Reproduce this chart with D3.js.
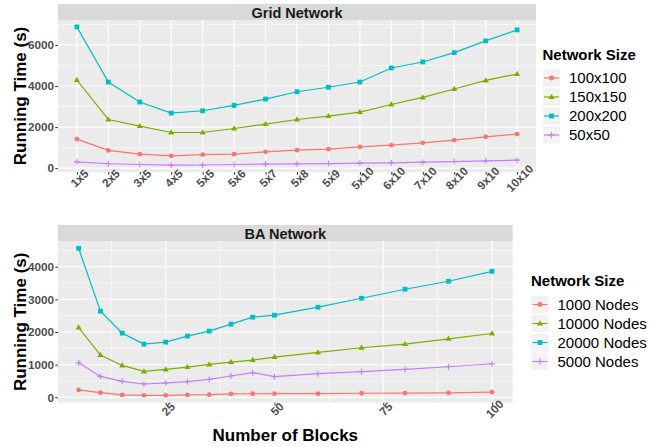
<!DOCTYPE html>
<html>
<head>
<meta charset="utf-8">
<script src="https://cdn.jsdelivr.net/npm/d3@7"></script>
<style>
  html, body { margin: 0; padding: 0; background: #fff; }
  svg { display: block; font-family: "Liberation Sans", Arial, Helvetica, sans-serif; }
</style>
</head>
<body>
<svg id="chart" width="652" height="447"></svg>
<script>
// ---- Grid network data (running time in seconds per block layout) ----
const gridCategories = ["1x5","2x5","3x5","4x5","5x5","5x6","5x7","5x8","5x9","5x10","6x10","7x10","8x10","9x10","10x10"];
const gridSeriesNames = ["100x100","150x150","200x200","50x50"];
const grid100x100 = [1415, 865, 683, 600, 663, 683, 795, 878, 927, 1039, 1122, 1234, 1366, 1527, 1659];
const grid150x150 = [4293, 2371, 2049, 1737, 1737, 1932, 2146, 2371, 2537, 2732, 3102, 3444, 3854, 4273, 4585];
const grid200x200 = [6878, 4195, 3220, 2683, 2795, 3054, 3366, 3722, 3940, 4195, 4878, 5171, 5624, 6195, 6732];
const grid50x50   = [307, 215, 180, 150, 155, 180, 200, 210, 224, 244, 259, 293, 322, 356, 390];
const gridYTicks = [0, 2000, 4000, 6000];

// ---- BA network data (running time in seconds per number of blocks) ----
const baBlocks = [5, 10, 15, 20, 25, 30, 35, 40, 45, 50, 60, 70, 80, 90, 100];
const baSeriesNames = ["1000 Nodes","10000 Nodes","20000 Nodes","5000 Nodes"];
const ba1000  = [226, 143, 73, 61, 61, 75, 82, 105, 110, 113, 113, 125, 130, 134, 160];
const ba10000 = [2137, 1295, 977, 794, 855, 928, 1008, 1081, 1142, 1234, 1374, 1518, 1630, 1792, 1954];
const ba20000 = [4562, 2638, 1966, 1630, 1692, 1875, 2027, 2241, 2455, 2516, 2760, 3035, 3310, 3554, 3859];
const ba5000  = [1060, 641, 489, 409, 440, 479, 550, 653, 754, 632, 724, 785, 855, 937, 1029];
const baXTicks = [25, 50, 75, 100];
const baXMinor = [12.5, 37.5, 62.5, 87.5];
const baYTicks = [0, 1000, 2000, 3000, 4000];

const colors = ["#F8766D", "#7CAE00", "#00BFC4", "#C77CFF"];
const shapes = ["circle", "triangle", "square", "plus"];

const svg = d3.select("#chart");
svg.append("rect").attr("width", 652).attr("height", 447).attr("fill", "#fff");

// ggplot-style 5% expansion of a numeric extent
function expand(lo, hi) {
  const d = (hi - lo) * 0.05;
  return [lo - d, hi + d];
}

function drawShape(g, shape, x, y, color) {
  if (shape === "circle") {
    g.append("circle").attr("cx", x).attr("cy", y).attr("r", 2.4).attr("fill", color);
  } else if (shape === "square") {
    g.append("rect").attr("x", x - 2.4).attr("y", y - 2.4).attr("width", 4.8).attr("height", 4.8).attr("fill", color);
  } else if (shape === "triangle") {
    const s = 3.2;
    g.append("path").attr("d", `M${x},${y - s}L${x + s * 0.95},${y + s * 0.62}L${x - s * 0.95},${y + s * 0.62}Z`).attr("fill", color);
  } else {
    const s = 3;
    g.append("path").attr("d", `M${x - s},${y}H${x + s}M${x},${y - s}V${y + s}`)
      .attr("stroke", color).attr("stroke-width", 1.1).attr("fill", "none");
  }
}

function drawPanel(opt) {
  const { left, right, top, bottom, stripTop, title, x, y, xs, series, yTicks, yMinor, xMajor, xMinor } = opt;
  const g = svg.append("g");

  // y axis title (drawn first so tick labels sit on top)
  svg.append("text").attr("transform", `translate(25.5,${(top + bottom) / 2}) rotate(-90)`)
    .attr("text-anchor", "middle").attr("font-weight", "bold").attr("font-size", 17).attr("fill", "#000")
    .text("Running Time (s)");

  // strip
  g.append("rect").attr("x", left).attr("y", stripTop).attr("width", right - left).attr("height", top - stripTop).attr("fill", "#D9D9D9");
  g.append("text").attr("x", (left + right) / 2).attr("y", stripTop + 14)
    .attr("text-anchor", "middle").attr("font-weight", "bold").attr("font-size", 14.5).attr("fill", "#1A1A1A").text(title);

  // panel background
  g.append("rect").attr("x", left).attr("y", top).attr("width", right - left).attr("height", bottom - top).attr("fill", "#EBEBEB");

  // minor grid
  yMinor.forEach(v => {
    const py = y(v);
    if (py > top && py < bottom)
      g.append("line").attr("x1", left).attr("x2", right).attr("y1", py).attr("y2", py).attr("stroke", "#fff").attr("stroke-width", 0.6);
  });
  xMinor.forEach(v => {
    g.append("line").attr("x1", x(v)).attr("x2", x(v)).attr("y1", top).attr("y2", bottom).attr("stroke", "#fff").attr("stroke-width", 0.6);
  });
  // major grid
  yTicks.forEach(v => {
    g.append("line").attr("x1", left).attr("x2", right).attr("y1", y(v)).attr("y2", y(v)).attr("stroke", "#fff").attr("stroke-width", 1.2);
  });
  xMajor.forEach(v => {
    g.append("line").attr("x1", x(v)).attr("x2", x(v)).attr("y1", top).attr("y2", bottom).attr("stroke", "#fff").attr("stroke-width", 1.2);
  });

  // lines
  const line = d3.line().x((d, i) => x(xs[i])).y(d => y(d));
  series.forEach((vals, k) => {
    g.append("path").attr("d", line(vals)).attr("fill", "none").attr("stroke", colors[k]).attr("stroke-width", 1.2);
  });
  // points
  series.forEach((vals, k) => {
    vals.forEach((v, i) => drawShape(g, shapes[k], x(xs[i]), y(v), colors[k]));
  });

  // y axis
  const ya = svg.append("g").attr("transform", `translate(${left},0)`)
    .call(d3.axisLeft(y).tickValues(yTicks).tickFormat(d3.format("d")).tickSize(2.75).tickPadding(1.3));
  ya.select(".domain").remove();
  ya.selectAll(".tick line").attr("stroke", "#333333").attr("stroke-width", 1);
  ya.selectAll(".tick text").attr("font-family", null).attr("font-size", 11.7).attr("font-weight", "bold").attr("fill", "#4D4D4D");

  // x axis
  const xa = svg.append("g").attr("transform", `translate(0,${bottom})`)
    .call(opt.xAxis(x).tickSize(2.75));
  xa.select(".domain").remove();
  xa.selectAll(".tick line").attr("stroke", "#333333").attr("stroke-width", 1);
  xa.selectAll(".tick text")
    .attr("font-family", null).attr("font-size", 11.7).attr("font-weight", "bold").attr("fill", "#4D4D4D")
    .attr("y", null).attr("dy", null).attr("text-anchor", "middle")
    .attr("transform", "translate(5,9.2) rotate(-45)");
}

function drawLegend(x0, titleY, names) {
  const g = svg.append("g");
  g.append("text").attr("x", x0).attr("y", titleY).attr("font-weight", "bold").attr("font-size", 15).attr("fill", "#000").text("Network Size");
  names.forEach((name, k) => {
    const cy = titleY + 18.5 + k * 19;
    g.append("rect").attr("x", x0 + 0.5).attr("y", cy - 8.5).attr("width", 17).attr("height", 17).attr("fill", "#F2F2F2");
    g.append("line").attr("x1", x0 + 1.5).attr("x2", x0 + 16.5).attr("y1", cy).attr("y2", cy).attr("stroke", colors[k]).attr("stroke-width", 1.2);
    drawShape(g, shapes[k], x0 + 9, cy, colors[k]);
    g.append("text").attr("x", x0 + 26.5).attr("y", cy + 5.3).attr("font-size", 15).attr("fill", "#000").text(name);
  });
}

// ---- Grid panel ----
{
  const left = 58, right = 536, top = 20, bottom = 172;
  const all = [].concat(grid100x100, grid150x150, grid200x200, grid50x50);
  const x = d3.scalePoint().domain(gridCategories).range([left, right]).padding(0.6);
  const y = d3.scaleLinear().domain(expand(d3.min(all), d3.max(all))).range([bottom, top]);
  drawPanel({
    left, right, top, bottom, stripTop: 4, title: "Grid Network", x, y,
    xs: gridCategories,
    series: [grid100x100, grid150x150, grid200x200, grid50x50],
    yTicks: gridYTicks, yMinor: [1000, 3000, 5000, 7000],
    xMajor: gridCategories, xMinor: [],
    xAxis: s => d3.axisBottom(s)
  });
  drawLegend(542.5, 59.5, gridSeriesNames);
}

// ---- BA panel ----
{
  const left = 58, right = 512.7, top = 241, bottom = 402.7;
  const all = [].concat(ba1000, ba10000, ba20000, ba5000);
  const x = d3.scaleLinear().domain(expand(d3.min(baBlocks), d3.max(baBlocks))).range([left, right]);
  const y = d3.scaleLinear().domain(expand(d3.min(all), d3.max(all))).range([bottom, top]);
  drawPanel({
    left, right, top, bottom, stripTop: 225, title: "BA Network", x, y,
    xs: baBlocks,
    series: [ba1000, ba10000, ba20000, ba5000],
    yTicks: baYTicks, yMinor: [500, 1500, 2500, 3500, 4500],
    xMajor: baXTicks, xMinor: baXMinor,
    xAxis: s => d3.axisBottom(s).tickValues(baXTicks).tickFormat(d3.format("d"))
  });
  drawLegend(531, 286, baSeriesNames);

  svg.append("text").attr("x", (left + right) / 2).attr("y", 440.5)
    .attr("text-anchor", "middle").attr("font-weight", "bold").attr("font-size", 17).attr("fill", "#000")
    .text("Number of Blocks");
}
</script>
</body>
</html>
